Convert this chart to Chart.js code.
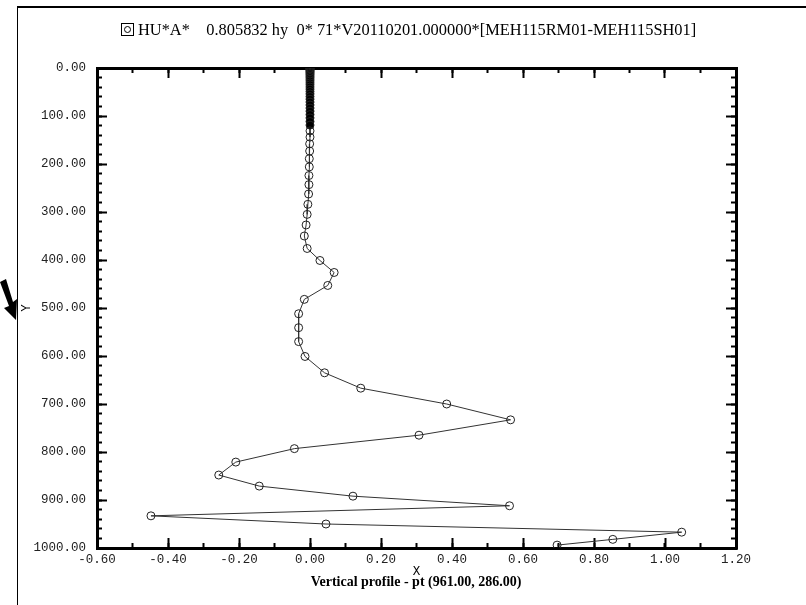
<!DOCTYPE html>
<html>
<head>
<meta charset="utf-8">
<script src="https://cdn.jsdelivr.net/npm/chart.js@4.4.1/dist/chart.umd.min.js"></script>
<style>
  html, body { margin: 0; padding: 0; background: #fff; }
  #wrap { position: relative; width: 806px; height: 605px; overflow: hidden; }
  #chart { position: absolute; left: 0; top: 0; }
  #frameL { position: absolute; left: 17px; top: 7px; width: 1px; height: 598px; background: #000; }
  #frameT { position: absolute; left: 17px; top: 6px; width: 789px; height: 2px; background: #000; }
  #head { position: absolute; left: 121px; top: 20px; font: 16.4px "Liberation Serif", serif; white-space: pre; color: #000; }
  #head .box { display: inline-block; width: 11px; height: 11px; border: 1px solid #000; position: relative; vertical-align: -1px; margin-right: 4px; }
  #head .box i { position: absolute; left: 2px; top: 2px; width: 5px; height: 5px; border: 1px solid #000; border-radius: 50%; }
  #foot { position: absolute; left: 216px; width: 400px; top: 574px; text-align: center; font: bold 14px "Liberation Serif", serif; color: #000; }
  #arrow { position: absolute; left: 0; top: 278px; }
</style>
</head>
<body>
<div id="wrap">
  <canvas id="chart" width="806" height="605"></canvas>
  <div id="frameT"></div>
  <div id="frameL"></div>
  <svg id="arrow" width="20" height="46" viewBox="0 0 20 46">
    <polygon points="0,4 6,1 13,24 17,21 16,42 4,30 9,28" fill="#000"/>
  </svg>
  <div id="head"><span class="box"><i></i></span>HU*A*    0.805832 hy  0* 71*V20110201.000000*[MEH115RM01-MEH115SH01]</div>
  <div id="foot">Vertical profile - pt (961.00, 286.00)</div>
</div>
<script>
/* ---- data ---- */
// vertical levels (Y, reversed axis)
const levels = [
  0, 1, 2, 3.5, 5, 7, 9, 11.5, 14, 17, 20, 23.5, 27, 31, 35, 39.5, 44, 49, 54, 59.5,
  65, 71, 77, 83.5, 90, 97, 104, 111.5, 119,
  131, 144, 158, 173, 189, 206, 224, 243, 262.5, 284, 305, 327, 350, 376, 401, 426,
  453, 482, 512, 541, 570, 601, 635, 667, 700, 733, 765, 793, 821, 848, 871, 892,
  912, 933, 950, 967, 982, 994
];
// profile value at each level (X)
const values = [
  0, 0, 0, 0, 0, 0, 0, 0, 0, 0, 0, 0, 0, 0, 0, 0, 0, 0, 0, 0,
  0, 0, 0, 0, 0, 0, 0, 0, 0,
  0, 0, -0.001, -0.001, -0.002, -0.002, -0.003, -0.003, -0.004, -0.006, -0.008, -0.011, -0.016, -0.008, 0.028, 0.068,
  0.050, -0.016, -0.032, -0.032, -0.032, -0.014, 0.041, 0.143, 0.385, 0.565, 0.307, -0.044, -0.209, -0.257, -0.143, 0.121,
  0.562, -0.448, 0.045, 1.047, 0.853, 0.696
];

const xTickValues = [-0.6, -0.4, -0.2, 0, 0.2, 0.4, 0.6, 0.8, 1.0, 1.2];
const yTickValues = [0, 100, 200, 300, 400, 500, 600, 700, 800, 900, 1000];

/* ---- axis helpers ---- */
const monoFont = { family: 'Liberation Mono', size: 12.5 };
const useTicks = list => s => { s.ticks = list.map(v => ({ value: v })); };

// tick-only axis (no labels), zero size so it sits on the plot frame
const tickAxis = (position, min, max, step, len, frame, reverse) => ({
  type: 'linear', position, min, max, reverse: !!reverse, weight: 0,
  ticks: { display: false, stepSize: step },
  grid: { drawOnChartArea: false, tickLength: -len, tickWidth: 2, tickColor: '#000' },
  border: frame ? { display: true, color: '#000', width: 3 } : { display: false },
  afterFit: s => { if (s.isHorizontal()) s.height = 0; else s.width = 0; }
});

const points = levels.map((y, i) => ({ x: values[i], y }));

new Chart(document.getElementById('chart'), {
  type: 'scatter',
  data: {
    datasets: [{
      data: points,
      showLine: true,
      borderColor: '#333',
      borderWidth: 1,
      pointRadius: 4,
      pointBorderWidth: 1,
      pointBorderColor: '#222',
      // the packed top levels merge into a solid block in the original
      pointBackgroundColor: c => (c.raw && c.raw.y < 125 ? '#000' : 'rgba(0,0,0,0)'),
      clip: 0
    }]
  },
  options: {
    responsive: false,
    animation: false,
    devicePixelRatio: 1,
    layout: { padding: { top: 68, right: 70, left: 0, bottom: 0 } },
    plugins: { legend: { display: false }, tooltip: { enabled: false } },
    scales: {
      x: {
        type: 'linear', position: 'bottom', weight: 1, min: -0.6, max: 1.2,
        afterBuildTicks: useTicks(xTickValues),
        ticks: { callback: v => Number(v).toFixed(2), font: monoFont, color: '#222', padding: 14, maxRotation: 0, autoSkip: false },
        grid: { drawOnChartArea: false, tickLength: -10, tickWidth: 2, tickColor: '#000' },
        border: { color: '#000', width: 3 },
        title: { display: true, text: 'X', font: monoFont, color: '#000', padding: { top: 0, bottom: 26 } },
        afterFit: s => { s.height = 57; }
      },
      xMinor: tickAxis('bottom', -0.6, 1.2, 0.1, 5, false),
      xTop: tickAxis('top', -0.6, 1.2, 0.2, 10, true),
      xTopMinor: tickAxis('top', -0.6, 1.2, 0.1, 5, false),
      y: {
        type: 'linear', position: 'left', weight: 1, min: 0, max: 1000, reverse: true,
        afterBuildTicks: useTicks(yTickValues),
        ticks: { callback: v => Number(v).toFixed(2), font: monoFont, color: '#222', padding: 21, autoSkip: false },
        grid: { drawOnChartArea: false, tickLength: -10, tickWidth: 2, tickColor: '#000' },
        border: { color: '#000', width: 3 },
        title: { display: true, text: 'Y', font: monoFont, color: '#000', padding: { top: 19, bottom: 0 } },
        afterFit: s => { s.width = 97; }
      },
      yMinor: tickAxis('left', 0, 1000, 20, 5, false, true),
      yRight: tickAxis('right', 0, 1000, 100, 10, true, true),
      yRightMinor: tickAxis('right', 0, 1000, 20, 5, false, true)
    }
  }
});
</script>
</body>
</html>
